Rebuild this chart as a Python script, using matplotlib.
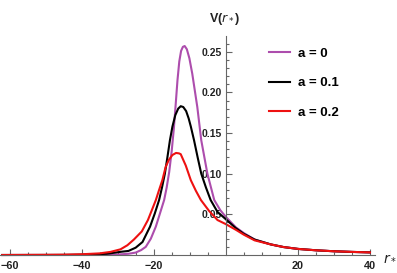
import numpy as np
import matplotlib
matplotlib.use('Agg')
import matplotlib.pyplot as plt
from matplotlib.ticker import FixedLocator, FuncFormatter

plt.rcParams['font.family'] = ['Liberation Sans', 'DejaVu Sans']

##potential curves (r*, V)
x_a0 = [-62, -45, -35, -30, -27, -25, -23.5, -22.2, -20.8, -19.4, -18.2, -17.1,
        -16.4, -15.7, -15.0, -14.4, -13.9, -13.4, -12.9, -12.4, -11.9, -11.4,
        -10.8, -10.1, -9.3, -7.9, -6.8, -5.1, -3.2, -1.5, 0, 1.5, 2.8, 5, 8,
        12.5, 16, 20, 25, 30, 35, 40]
v_a0 = [0, 0, 0.0002, 0.0006, 0.0015, 0.003, 0.006, 0.010, 0.020, 0.035, 0.052,
        0.0676, 0.083, 0.102, 0.128, 0.156, 0.185, 0.215, 0.238, 0.251, 0.256,
        0.257, 0.253, 0.242, 0.223, 0.182, 0.141, 0.100, 0.0676, 0.055, 0.047,
        0.040, 0.034, 0.027, 0.019, 0.013, 0.0098, 0.0075, 0.0058, 0.0046,
        0.0038, 0.0032]

x_a1 = [-62, -45, -38, -33, -29, -27, -25, -23.1, -21.0, -19.7, -18.5, -17.7,
        -16.9, -16.2, -15.5, -14.8, -14.0, -13.2, -12.5, -11.8, -11.0, -10.3,
        -9.7, -8.8, -7.8, -6.8, -5.5, -4.2, -2.3, -0.5, 0, 2.8, 5, 8, 12.5, 16,
        20, 25, 30, 35, 40]
v_a1 = [0, 0.0001, 0.0005, 0.0015, 0.004, 0.005, 0.009, 0.016, 0.035, 0.051,
        0.0676, 0.083, 0.100, 0.120, 0.141, 0.158, 0.172, 0.180, 0.183, 0.182,
        0.177, 0.168, 0.158, 0.141, 0.120, 0.100, 0.083, 0.0676, 0.053, 0.046,
        0.044, 0.033, 0.026, 0.019, 0.013, 0.0098, 0.0075, 0.0058, 0.0046,
        0.0038, 0.0032]

x_a2 = [-62, -50, -45, -40, -35, -32, -29.2, -27.3, -25.5, -23.3, -21.6, -19.4,
        -18.5, -17.6, -16.7, -15.8, -14.8, -13.8, -13.0, -12.5, -11.1, -9.7,
        -8.3, -6.9, -4.6, -2.3, 0, 2.8, 5, 8, 12.5, 16, 20, 25, 30, 35, 40]
v_a2 = [0, 0.0002, 0.0004, 0.0009, 0.002, 0.0038, 0.007, 0.012, 0.019, 0.029,
        0.043, 0.0676, 0.080, 0.092, 0.108, 0.117, 0.123, 0.1255, 0.125, 0.124,
        0.110, 0.092, 0.079, 0.0676, 0.054, 0.043, 0.038, 0.031, 0.025, 0.018,
        0.013, 0.0098, 0.0075, 0.0058, 0.0046, 0.0038, 0.0032]

labels = ['a = 0', 'a = 0.1', 'a = 0.2']
colors = ['#ad4dad', 'black', '#ee1111']

W, H = 397, 273
fig = plt.figure(figsize=(W / 100, H / 100), dpi=100)
ax = fig.add_axes([0, (H - 255) / H, 375 / W, (255 - 35.7) / H])

for xs, vs, lab, col in zip([x_a0, x_a1, x_a2], [v_a0, v_a1, v_a2], labels, colors):
    ax.plot(xs, vs, color=col, lw=1.5, label=lab, clip_on=False)

ax.set_xlim(-62.64, 41.4)
ax.set_ylim(0, 0.2697)

##mathematica style axes crossing at the origin
for s in ['top', 'right']:
    ax.spines[s].set_visible(False)
ax.spines['left'].set_position(('data', 0))
ax.spines['bottom'].set_position(('data', 0))
axcol = '#666666'
for s in ['left', 'bottom']:
    ax.spines[s].set_color(axcol)
    ax.spines[s].set_linewidth(0.8)

ax.xaxis.set_major_locator(FixedLocator([-60, -40, -20, 20, 40]))
ax.xaxis.set_minor_locator(FixedLocator([v for v in range(-60, 45, 5) if v % 20]))
ax.yaxis.set_major_locator(FixedLocator([0.05, 0.10, 0.15, 0.20, 0.25]))
ax.yaxis.set_minor_locator(FixedLocator([v / 100 for v in range(1, 27) if v % 5]))
ax.xaxis.set_major_formatter(FuncFormatter(lambda v, p: ('%d' % v).replace('-', '\u2212')))
ax.yaxis.set_major_formatter(FuncFormatter(lambda v, p: '%.2f' % v))
ax.tick_params(which='both', direction='in', color=axcol, width=0.8)
ax.tick_params(which='major', length=4, labelsize=7.8, pad=4)
ax.tick_params(which='minor', length=2)
ax.tick_params(axis='y', which='major', pad=3, labelsize=7.5)
for t in ax.get_xticklabels() + ax.get_yticklabels():
    t.set_fontweight('bold')
    t.set_color('#222222')

fig.text(225 / W, 1 - 19 / H, r'V($r_*$)', ha='center', va='center',
         fontsize=9, fontweight='bold', color='#222222')
fig.text(390 / W, 1 - 257 / H, r'$r_*$', ha='center', va='center',
         fontsize=10, color='#222222')

fig.legend(loc='upper left', bbox_to_anchor=(262 / W, 1 - 41 / H),
           bbox_transform=fig.transFigure, frameon=False, borderpad=0,
           handlelength=1.6, handletextpad=0.6, labelspacing=1.3,
           prop={'size': 9.5, 'weight': 'bold'})

fig.savefig('out.png', dpi=100)
